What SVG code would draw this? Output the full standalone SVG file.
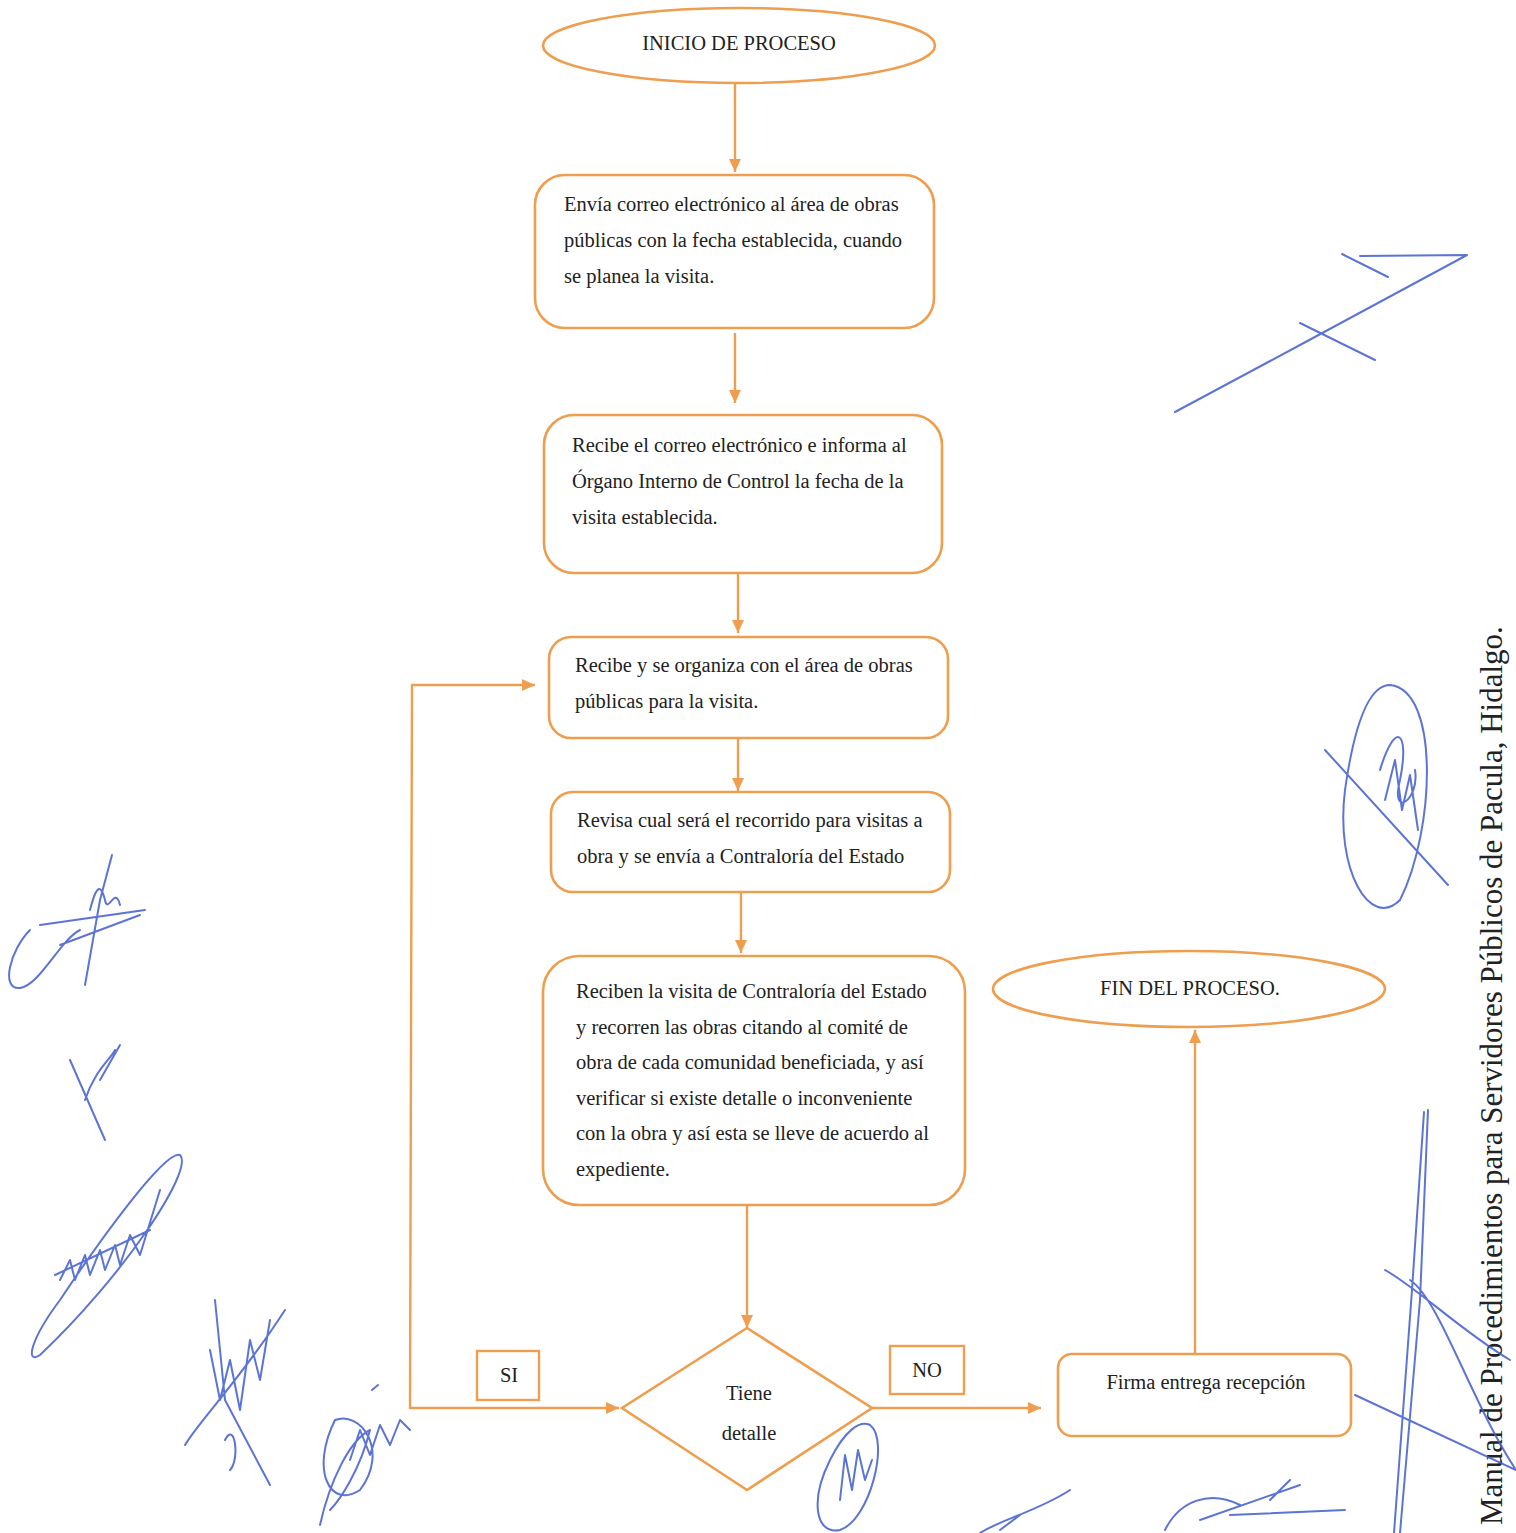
<svg xmlns="http://www.w3.org/2000/svg" width="1516" height="1533" viewBox="0 0 1516 1533">
<style>
.shape{fill:#fff;stroke:#EE9E4E;stroke-width:2.6}
.lbl{fill:#fff;stroke:#EE9E4E;stroke-width:2.4}
.con{fill:none;stroke:#EE9E4E;stroke-width:2.4}
.t{font-family:"Liberation Serif","Times New Roman",serif;font-size:20.5px;fill:#222}
.c{text-anchor:middle}
.sig{fill:none;stroke:#3F5CCB;stroke-width:2;stroke-linecap:round;stroke-linejoin:round;opacity:0.85}
</style>
<defs>
<marker id="ah" markerUnits="userSpaceOnUse" markerWidth="14" markerHeight="14" refX="13" refY="7" orient="auto-start-reverse">
<path d="M0,1 L13,7 L0,13 Z" fill="#EE9E4E"/>
</marker>
</defs>
<rect width="1516" height="1533" fill="#fff"/>

<g id="connectors">
<path class="con" d="M735,84 V172" marker-end="url(#ah)"/>
<path class="con" d="M735,333 V403" marker-end="url(#ah)"/>
<path class="con" d="M738,573 V633" marker-end="url(#ah)"/>
<path class="con" d="M738,738 V791" marker-end="url(#ah)"/>
<path class="con" d="M741,892 V953" marker-end="url(#ah)"/>
<path class="con" d="M747,1205 V1328" marker-end="url(#ah)"/>
<path class="con" d="M619,1408 H410 L412,685 H535" marker-start="url(#ah)" marker-end="url(#ah)"/>
<path class="con" d="M872,1408 H1041" marker-end="url(#ah)"/>
<path class="con" d="M1195,1354 V1030" marker-end="url(#ah)"/>
</g>

<g id="inicio">
<ellipse class="shape" cx="739" cy="45.5" rx="196" ry="37.5"/>
<text class="t c" x="739" y="50">INICIO DE PROCESO</text>
</g>

<g id="envia">
<rect class="shape" x="535" y="175" width="399" height="153" rx="30"/>
<text class="t" x="564" y="211">Envía correo electrónico al área de obras</text>
<text class="t" x="564" y="247">públicas con la fecha establecida,  cuando</text>
<text class="t" x="564" y="283">se planea la visita.</text>
</g>

<g id="recibe-correo">
<rect class="shape" x="544" y="415" width="398" height="158" rx="30"/>
<text class="t" x="572" y="452">Recibe el correo electrónico e informa al</text>
<text class="t" x="572" y="488">Órgano Interno de Control  la fecha de la</text>
<text class="t" x="572" y="524">visita establecida.</text>
</g>

<g id="organiza">
<rect class="shape" x="549" y="637" width="399" height="101" rx="22"/>
<text class="t" x="575" y="672">Recibe y se organiza con el área de obras</text>
<text class="t" x="575" y="708">públicas para la visita.</text>
</g>

<g id="revisa">
<rect class="shape" x="551" y="792" width="399" height="100" rx="22"/>
<text class="t" x="577" y="827">Revisa cual será el recorrido para visitas a</text>
<text class="t" x="577" y="863">obra y se envía a Contraloría del Estado</text>
</g>

<g id="reciben-visita">
<rect class="shape" x="543" y="956" width="422" height="249" rx="36"/>
<text class="t" x="576" y="998">Reciben la visita de Contraloría del Estado</text>
<text class="t" x="576" y="1034">y recorren las obras citando al comité de</text>
<text class="t" x="576" y="1069">obra de cada comunidad beneficiada, y así</text>
<text class="t" x="576" y="1105">verificar si existe detalle o inconveniente</text>
<text class="t" x="576" y="1140">con la obra y así esta se lleve de acuerdo al</text>
<text class="t" x="576" y="1176">expediente.</text>
</g>

<g id="tiene-detalle">
<path class="shape" d="M747,1328 L872,1408 L747,1490 L622,1408 Z"/>
<text class="t c" x="749" y="1400">Tiene</text>
<text class="t c" x="749" y="1440">detalle</text>
</g>

<g id="si">
<rect class="lbl" x="477" y="1351" width="62" height="49"/>
<text class="t c" x="509" y="1382">SI</text>
</g>

<g id="no">
<rect class="lbl" x="890" y="1346" width="74" height="48"/>
<text class="t c" x="927" y="1377">NO</text>
</g>

<g id="firma">
<rect class="shape" x="1058" y="1354" width="293" height="82" rx="14"/>
<text class="t c" x="1206" y="1389">Firma entrega recepción</text>
</g>

<g id="fin">
<ellipse class="shape" cx="1189" cy="989" rx="196" ry="38"/>
<text class="t c" x="1190" y="995">FIN DEL PROCESO.</text>
</g>

<g id="footer">
<text class="t" transform="translate(1502,1525) rotate(-90)" x="0" y="0" style="font-size:31px">Manual de Procedimientos para Servidores Públicos de Pacula, Hidalgo.</text>
</g>

<g id="signatures">
<path class="sig" d="M1175,412 L1300,345 L1467,255 L1360,256 M1342,254 L1388,277 M1300,323 L1375,360"/>
<path class="sig" d="M1390,685 C1440,690 1435,830 1400,900 C1370,930 1335,870 1345,790 C1355,720 1370,685 1390,685 Z M1325,750 L1448,885 M1380,770 C1395,720 1410,730 1400,780 C1390,820 1420,800 1415,770 M1385,800 L1395,760 L1402,810 L1410,775 L1418,830"/>
<path class="sig" d="M1428,1110 L1420,1300 L1400,1533 M1424,1112 L1412,1290 L1394,1533 M1385,1270 C1420,1290 1460,1330 1510,1360 M1410,1280 C1440,1300 1470,1400 1516,1470 M1355,1395 L1516,1470"/>
<path class="sig" d="M112,855 L100,900 L85,985 M30,930 C10,950 0,990 20,988 C40,985 60,940 80,930 M40,925 L145,910 M60,945 L140,915 M90,910 C95,890 100,880 105,900 C108,915 115,885 120,905"/>
<path class="sig" d="M70,1060 L105,1140 M85,1100 C95,1070 110,1060 115,1050 M100,1080 L120,1045"/>
<path class="sig" d="M180,1155 C195,1170 120,1280 40,1355 C25,1365 30,1340 60,1300 C100,1240 165,1150 180,1155 Z M55,1275 L150,1230 M60,1280 L70,1260 L75,1280 L85,1255 L90,1275 L100,1250 L105,1270 L115,1245 L120,1265 L130,1235 L140,1255 L160,1190"/>
<path class="sig" d="M215,1300 L225,1400 L270,1485 M185,1445 C200,1420 240,1380 285,1310 M210,1350 L220,1400 L230,1360 L240,1410 L250,1340 L260,1380 L270,1320 M225,1440 C235,1420 240,1460 230,1470"/>
<path class="sig" d="M320,1525 C330,1480 350,1440 370,1430 C360,1470 340,1500 330,1510 M335,1420 C360,1410 390,1450 360,1490 C330,1510 310,1470 335,1420 Z M350,1460 L360,1430 L370,1455 L380,1425 L390,1445 L400,1420 L410,1430 M372,1390 L378,1385"/>
<path class="sig" d="M870,1425 C890,1440 870,1520 840,1530 C815,1535 810,1500 830,1460 C845,1430 860,1420 870,1425 Z M840,1500 L845,1455 L852,1490 L858,1450 L865,1480 L872,1460"/>
<path class="sig" d="M980,1533 C1000,1520 1040,1510 1070,1490 M1000,1530 L1020,1515"/>
<path class="sig" d="M1165,1530 C1180,1500 1210,1490 1240,1505 M1200,1520 L1300,1485 M1230,1515 L1345,1510 M1270,1500 L1290,1480"/>
</g>
</svg>
